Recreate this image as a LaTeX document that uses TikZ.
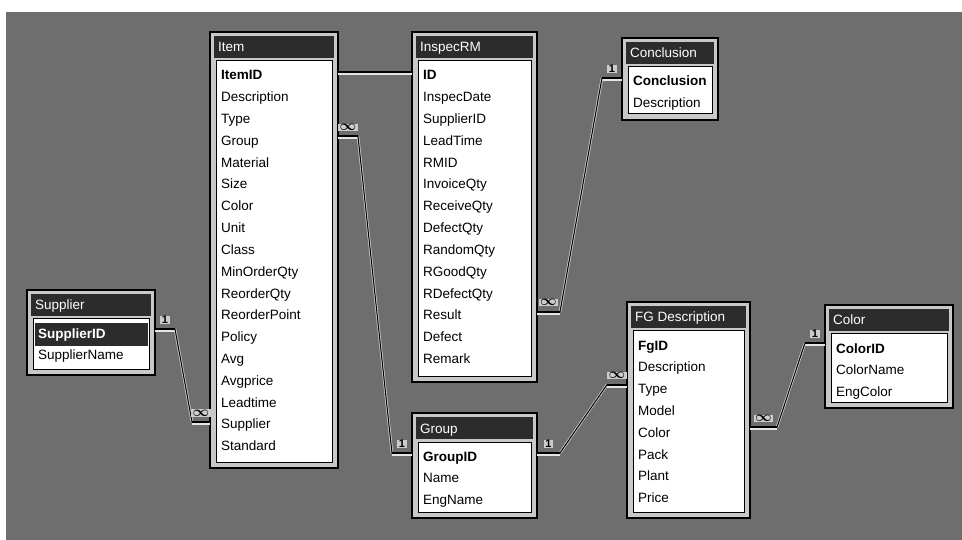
\documentclass[tikz,border=0pt]{standalone}
\usepackage{amsmath}
\usepackage{fontspec}
\setmainfont{Liberation Sans}
\usetikzlibrary{calc}
\definecolor{bggray}{HTML}{6E6E6E}
\definecolor{framegray}{HTML}{C8C8C8}
\definecolor{titledark}{HTML}{2C2C2C}
\tikzset{
  tblframe/.style={draw=black, line width=1.2pt, fill=framegray, anchor=north west, inner sep=0pt, outer sep=0pt},
  titletext/.style={anchor=base west, inner sep=0pt, text=white, font=\fontsize{13.5}{15}\selectfont},
  listbox/.style={fill=white, draw=black, line width=1pt},
  field/.style={anchor=base west, inner sep=0pt, font=\fontsize{13.5}{15}\selectfont},
  keyfield/.style={field, font=\fontsize{13.5}{15}\selectfont\bfseries},
  selfield/.style={keyfield, text=white, fill=titledark, inner xsep=3pt, inner ysep=5pt, text width=107pt, xshift=-3pt},
  stubline/.style={draw=black, line width=2pt},
  stubhalo/.style={draw=gray!20, line width=4.2pt},
  relline/.style={draw=black, line width=1pt},
  relhalo/.style={draw=gray!40, line width=2.6pt},
  card/.style={font=\bfseries\fontsize{11}{12}\selectfont, inner xsep=1.5pt, inner ysep=0.5pt, fill=gray!40}
}
% #1 name, #2 x, #3 y, #4 width, #5 height, #6 title, #7 first-row style, #8 first row, #9 other rows
\newcommand\dbtable[9]{%
  \node[tblframe, minimum width=#4pt, minimum height=#5pt] (#1) at (#2,#3) {};
  \fill[titledark] ([shift={(4,4)}]#1.north west) rectangle ([shift={(-4,26)}]#1.north east);
  \node[titletext] (#1-title) at ([shift={(8,20)}]#1.north west) {#6};
  \draw[listbox] ([shift={(6,29)}]#1.north west) rectangle ([shift={(-6,-6)}]#1.south east);
  \node[#7] (#1-1) at ([shift={(11,48)}]#1.north west) {#8};
  \foreach \r [count=\i from 2] in {#9}
    \node[field] (#1-\i) at ([shift={(11,{48+(\i-1)*21.8})}]#1.north west) {\r};
}
% #1 start coord, #2 end coord, #3 start stub dx, #4 end stub dx, #5 start label, #6 end label
\newcommand\relation[6]{%
  \draw[relhalo] ($(#1)+(#3,0)$) -- ($(#2)+(#4,0)$);
  \draw[stubhalo] ($(#1)+(0,1)$) -- ++(#3,0);
  \draw[stubhalo] ($(#2)+(0,1)$) -- ++(#4,0);
  \draw[relline] ($(#1)+(#3,0)$) -- ($(#2)+(#4,0)$);
  \draw[stubline] (#1) -- ++(#3,0);
  \draw[stubline] (#2) -- ++(#4,0);
  \node[card] (#1-lab) at ($(#1)+({#3/2},-9)$) {#5};
  \node[card] (#2-lab) at ($(#2)+({#4/2},-9)$) {#6};
}
\newcommand\many{\fontsize{14}{14}\selectfont$\boldsymbol{\infty}$}
\begin{document}
\begin{tikzpicture}[x=1pt,y=-1pt]
\useasboundingbox (0,0) rectangle (962,540);
\fill[white] (0,0) rectangle (962,540);
\fill[bggray] (6,12) rectangle (962,540);

\dbtable{item}{210}{32}{128}{436}{Item}{keyfield}{ItemID}{Description,Type,Group,Material,Size,Color,Unit,Class,MinOrderQty,ReorderQty,ReorderPoint,Policy,Avg,Avgprice,Leadtime,Supplier,Standard}
\dbtable{inspec}{412}{32}{125}{350}{InspecRM}{keyfield}{ID}{InspecDate,SupplierID,LeadTime,RMID,InvoiceQty,ReceiveQty,DefectQty,RandomQty,RGoodQty,RDefectQty,Result,Defect,Remark}
\dbtable{conclusion}{622}{38}{96}{82}{Conclusion}{keyfield}{Conclusion}{Description}
\dbtable{supplier}{27}{290}{128}{85}{Supplier}{selfield}{SupplierID}{SupplierName}
\dbtable{group}{412}{413}{125}{105}{Group}{keyfield}{GroupID}{Name,EngName}
\dbtable{fg}{627}{302}{123}{216}{FG Description}{keyfield}{FgID}{Description,Type,Model,Color,Pack,Plant,Price}
\dbtable{color}{825}{305}{128}{103}{Color}{keyfield}{ColorID}{ColorName,EngColor}

% relationship end points (about mid-height of the joined fields)
\coordinate (r1a) at ($(item.east |- item-1.base)+(0,-8)$);
\coordinate (r1b) at ($(inspec.west |- inspec-1.base)+(0,-8)$);
\coordinate (r2a) at ($(item.east |- item-4.base)+(0,-9)$);
\coordinate (r2b) at ($(group.west |- group-1.base)+(0,-8)$);
\coordinate (r3a) at ($(supplier.east |- supplier-1.base)+(0,-9)$);
\coordinate (r3b) at ($(item.west |- item-17.base)+(0,-7)$);
\coordinate (r4a) at ($(inspec.east |- inspec-12.base)+(0,-8)$);
\coordinate (r4b) at ($(conclusion.west |- conclusion-1.base)+(0,-8)$);
\coordinate (r5a) at ($(group.east |- group-1.base)+(0,-8)$);
\coordinate (r5b) at ($(fg.west |- fg-3.base)+(0,-9)$);
\coordinate (r6a) at ($(fg.east |- fg-5.base)+(0,-10)$);
\coordinate (r6b) at ($(color.west |- color-1.base)+(0,-10)$);

% Item.ItemID -- InspecRM.ID
\draw[stubhalo] ($(r1a)+(0,1)$) -- ($(r1b)+(0,1)$);
\draw[relline, line width=1.3pt] (r1a) -- (r1b);

\relation{r2a}{r2b}{20}{-20}{\many}{1}
\relation{r3a}{r3b}{20}{-18}{1}{\many}
\relation{r4a}{r4b}{23}{-20}{\many}{1}
\relation{r5a}{r5b}{23}{-20}{1}{\many}
\relation{r6a}{r6b}{27}{-20}{\many}{1}
\end{tikzpicture}
\end{document}
